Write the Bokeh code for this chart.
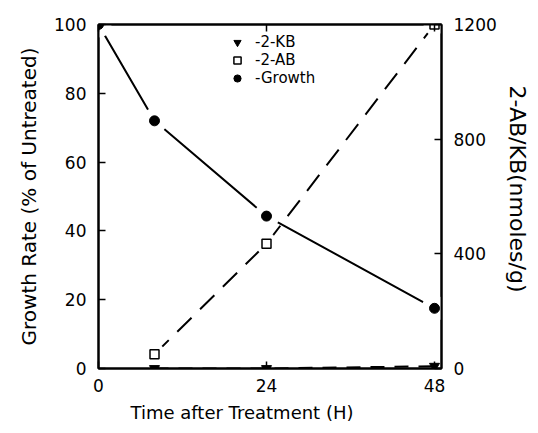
from bokeh.plotting import figure
from bokeh.models import LinearAxis, Range1d, Legend, LegendItem, FixedTicker, Title
from bokeh.embed import file_html
from bokeh.resources import INLINE

# ---- data ----
time_growth = [0, 8, 24, 48]
growth = [100, 72, 44.3, 17.5]
time_ab = [8, 24, 48]
ab = [50, 435, 1200]
time_kb = [8, 24, 48]
kb = [0, 0, 8]
x_ticks = [0, 24, 48]
left_ticks = [0, 20, 40, 60, 80, 100]
right_ticks = [0, 400, 800, 1200]

FONT = "DejaVu Sans"

p = figure(width=536, height=431, x_range=Range1d(0, 49), y_range=Range1d(0, 100),
           output_backend="svg", toolbar_location=None,
           min_border_left=98, min_border_right=93, min_border_top=24, min_border_bottom=63,
           x_axis_location=None, y_axis_location=None)
p.extra_y_ranges = {"r": Range1d(0, 1200)}
p.xgrid.visible = False
p.ygrid.visible = False
p.outline_line_color = "black"
p.outline_line_width = 2
p.background_fill_color = "white"
p.border_fill_color = "white"


def style(ax, label_size="17px"):
    ax.axis_line_width = 2
    ax.axis_line_color = "black"
    ax.major_tick_in = 7
    ax.major_tick_out = 0
    ax.minor_tick_in = 0
    ax.minor_tick_out = 0
    ax.major_tick_line_width = 1.5
    ax.major_label_text_font = FONT
    ax.major_label_text_font_size = "17px"
    ax.major_label_text_color = "black"
    ax.axis_label_text_font = FONT
    ax.axis_label_text_font_size = label_size
    ax.axis_label_text_font_style = "normal"
    ax.axis_label_text_color = "black"


bottom = LinearAxis(ticker=FixedTicker(ticks=x_ticks))
style(bottom)
bottom.major_label_standoff = 10
p.add_layout(bottom, "below")

top = LinearAxis(ticker=FixedTicker(ticks=x_ticks),
                 major_label_overrides={t: "" for t in x_ticks})
style(top)
top.major_label_standoff = 0
p.add_layout(top, "above")

left = LinearAxis(ticker=FixedTicker(ticks=left_ticks), axis_label="Growth Rate (% of Untreated)")
style(left, "20px")
left.major_label_standoff = 12
left.axis_label_standoff = 10
p.add_layout(left, "left")

right = LinearAxis(y_range_name="r", ticker=FixedTicker(ticks=right_ticks))
style(right)
right.major_label_standoff = 12
p.add_layout(right, "right")

p.add_layout(Title(text="Time after Treatment (H)", align="left", offset=32,
                   text_font=FONT, text_font_size="18px", text_font_style="normal",
                   text_color="black", standoff=11), "below")
p.add_layout(Title(text="2-AB/KB(nmoles/g)", align="left", offset=61,
                   text_font=FONT, text_font_size="22px", text_font_style="normal",
                   text_color="black", standoff=10), "right")

# ---- lines ----
p.line(time_kb, kb, y_range_name="r", line_color="black", line_width=2, line_dash="14 10")
p.line(time_ab, ab, y_range_name="r", line_color="black", line_width=2, line_dash="20 12")
p.line(time_growth, growth, line_color="black", line_width=2)

# halos (gaps around markers)
p.scatter(time_growth, growth, marker="circle", size=26, fill_color="white", line_color=None)
p.scatter(time_ab, ab, y_range_name="r", marker="circle", size=22, fill_color="white", line_color=None)

# ---- markers ----
kb_r = p.scatter(time_kb, kb, y_range_name="r", marker="inverted_triangle", size=10,
                 fill_color="black", line_color="black")
ab_r = p.scatter(time_ab, ab, y_range_name="r", marker="square", size=9,
                 fill_color="white", line_color="black", line_width=1.5)
g_r = p.scatter(time_growth, growth, marker="circle", size=10,
                fill_color="black", line_color="black")

legend = Legend(items=[LegendItem(label="-2-KB", renderers=[kb_r]),
                       LegendItem(label="-2-AB", renderers=[ab_r]),
                       LegendItem(label="-Growth", renderers=[g_r])],
                location=(129, 281), orientation="vertical",
                border_line_color=None, background_fill_alpha=0,
                padding=0, spacing=0, margin=0, label_standoff=8,
                glyph_width=20, glyph_height=18, label_height=18,
                label_text_font=FONT, label_text_font_size="15px",
                label_text_color="black")
p.add_layout(legend, "center")

open("out.html", "w").write(file_html(p, INLINE))
